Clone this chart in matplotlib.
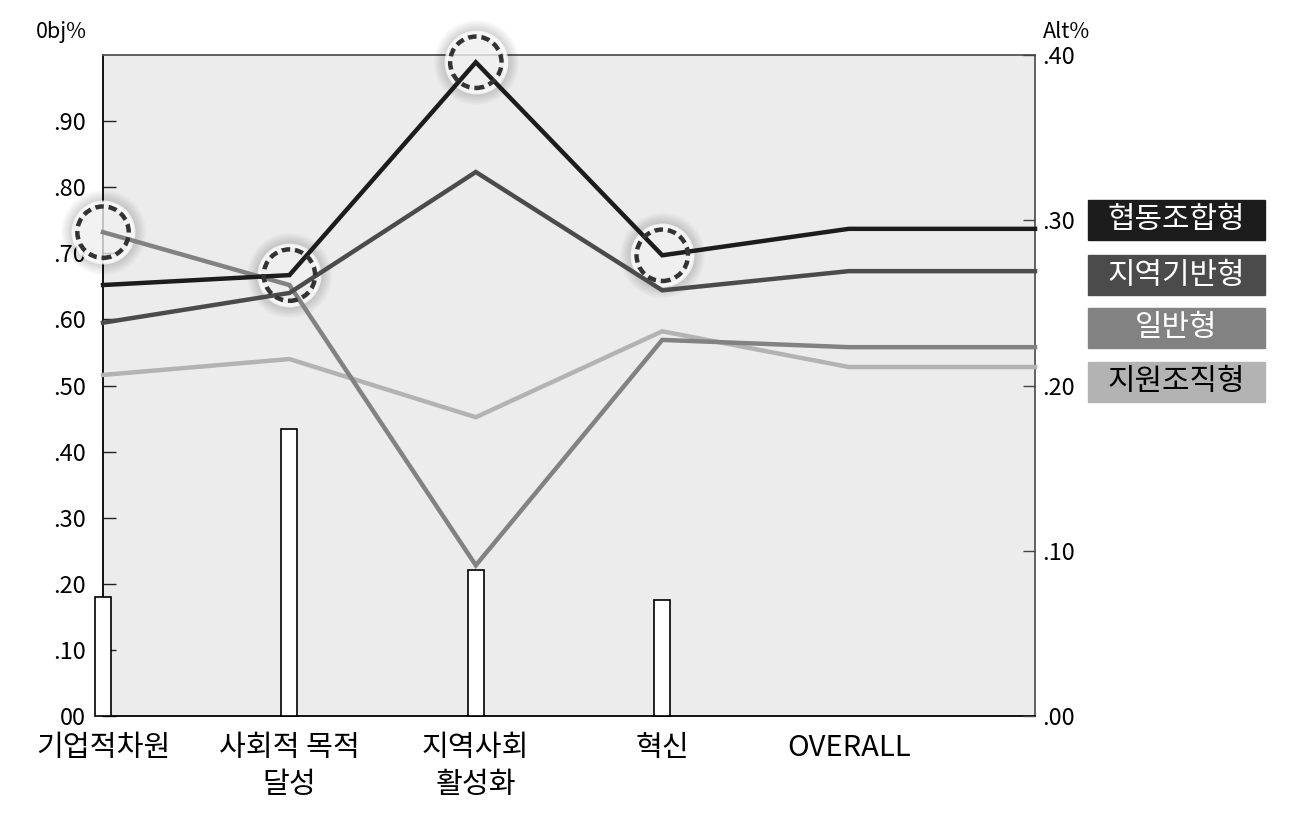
import matplotlib.pyplot as plt
from matplotlib.patches import Rectangle
import numpy as np

plt.rcParams['font.family'] = ['Noto Sans CJK KR', 'DejaVu Sans']

# data
categories = ['기업적차원', '사회적 목적\n달성', '지역사회\n활성화', '혁신', 'OVERALL']
coop = [0.652, 0.667, 0.989, 0.697, 0.737]      # 협동조합형
region = [0.595, 0.640, 0.823, 0.644, 0.673]    # 지역기반형
general = [0.732, 0.652, 0.228, 0.569, 0.558]   # 일반형
support = [0.516, 0.540, 0.452, 0.582, 0.528]   # 지원조직형
bar_vals = [0.180, 0.434, 0.221, 0.175]

series_names = ['협동조합형', '지역기반형', '일반형', '지원조직형']
series_colors = ['#1c1c1c', '#4b4b4b', '#828282', '#b3b3b3']
text_colors = ['white', 'white', 'white', 'black']
left_ticks = [0, .1, .2, .3, .4, .5, .6, .7, .8, .9]
left_labels = ['00', '.10', '.20', '.30', '.40', '.50', '.60', '.70', '.80', '.90']
right_ticks = [0, .1, .2, .3, .4]
right_labels = ['.00', '.10', '.20', '.30', '.40']

fig = plt.figure(figsize=(12.99, 8.27), dpi=100)
ax = fig.add_axes([0.0793, 0.1342, 0.7175, 0.7993])
ax.set_facecolor('#ececec')
ax.set_xlim(0, 5)
ax.set_ylim(0, 1.0)

# bars (drawn over the spines, like the reference)
ax.bar(np.arange(len(bar_vals)), bar_vals, width=0.085, color='white',
       edgecolor='black', linewidth=1.2, zorder=2.7, clip_on=False)

# lines, flat from OVERALL to the right edge
series = [coop, region, general, support]
xs = np.arange(len(categories) + 1)
for vals, col in zip(series[::-1], series_colors[::-1]):
    ax.plot(xs, vals + [vals[-1]], color=col, lw=3.2, zorder=3,
            solid_joinstyle='miter', clip_on=False)

# highlight circles on the max of each category (first four)
hx, hy = [], []
for i in range(4):
    col_vals = [s[i] for s in series]
    hx.append(i)
    hy.append(max(col_vals))
for k in range(8):
    ax.scatter(hx, hy, s=(45 + k * 2.3) ** 2, color='black', alpha=0.022,
               linewidths=0, zorder=2.55, clip_on=False)
ax.scatter(hx, hy, s=43.5 ** 2, color='white', alpha=0.75, edgecolors='white',
           linewidths=2.5, zorder=2.6, clip_on=False)
ax.scatter(hx, hy, s=37 ** 2, facecolors='none', edgecolors='#333333',
           linewidths=3.2, linestyles=(0, (1.9, 1.1)), zorder=4, clip_on=False)

# axes styling
ax.set_xticks(range(len(categories)))
ax.set_xticklabels(categories, fontsize=21, linespacing=1.3)
ax.tick_params(axis='x', length=0, pad=12)
ax.set_yticks(left_ticks)
ax.set_yticklabels(left_labels, fontsize=17)
ax.tick_params(axis='y', direction='in', length=9, width=1, pad=12,
               color='#222222')
for side in ['left', 'bottom']:
    ax.spines[side].set_color('black')
    ax.spines[side].set_linewidth(1.3)
for side in ['top', 'right']:
    ax.spines[side].set_color('#555555')
    ax.spines[side].set_linewidth(1.3)

ax2 = ax.twinx()
ax2.set_ylim(0, 0.4)
ax2.set_yticks(right_ticks)
ax2.set_yticklabels(right_labels, fontsize=17)
ax2.tick_params(axis='y', direction='in', length=9, width=1, pad=5,
                color='#444444')
for s in ax2.spines.values():
    s.set_visible(False)

fig.text(0.0277, 0.961, '0bj%', fontsize=15.5, va='center', ha='left')
fig.text(0.803, 0.961, 'Alt%', fontsize=15.5, va='center', ha='left')

# legend boxes
box_top = [200, 255, 308, 362]
for name, col, tc, top in zip(series_names, series_colors, text_colors, box_top):
    y0 = 1 - (top + 40) / 827
    fig.patches.append(Rectangle((1088 / 1299, y0), 177 / 1299, 40 / 827,
                                 transform=fig.transFigure, color=col))
    fig.text((1088 + 88.5) / 1299, y0 + 20 / 827, name, color=tc,
             fontsize=21.5, ha='center', va='center')

plt.savefig('out.png', dpi=100)
